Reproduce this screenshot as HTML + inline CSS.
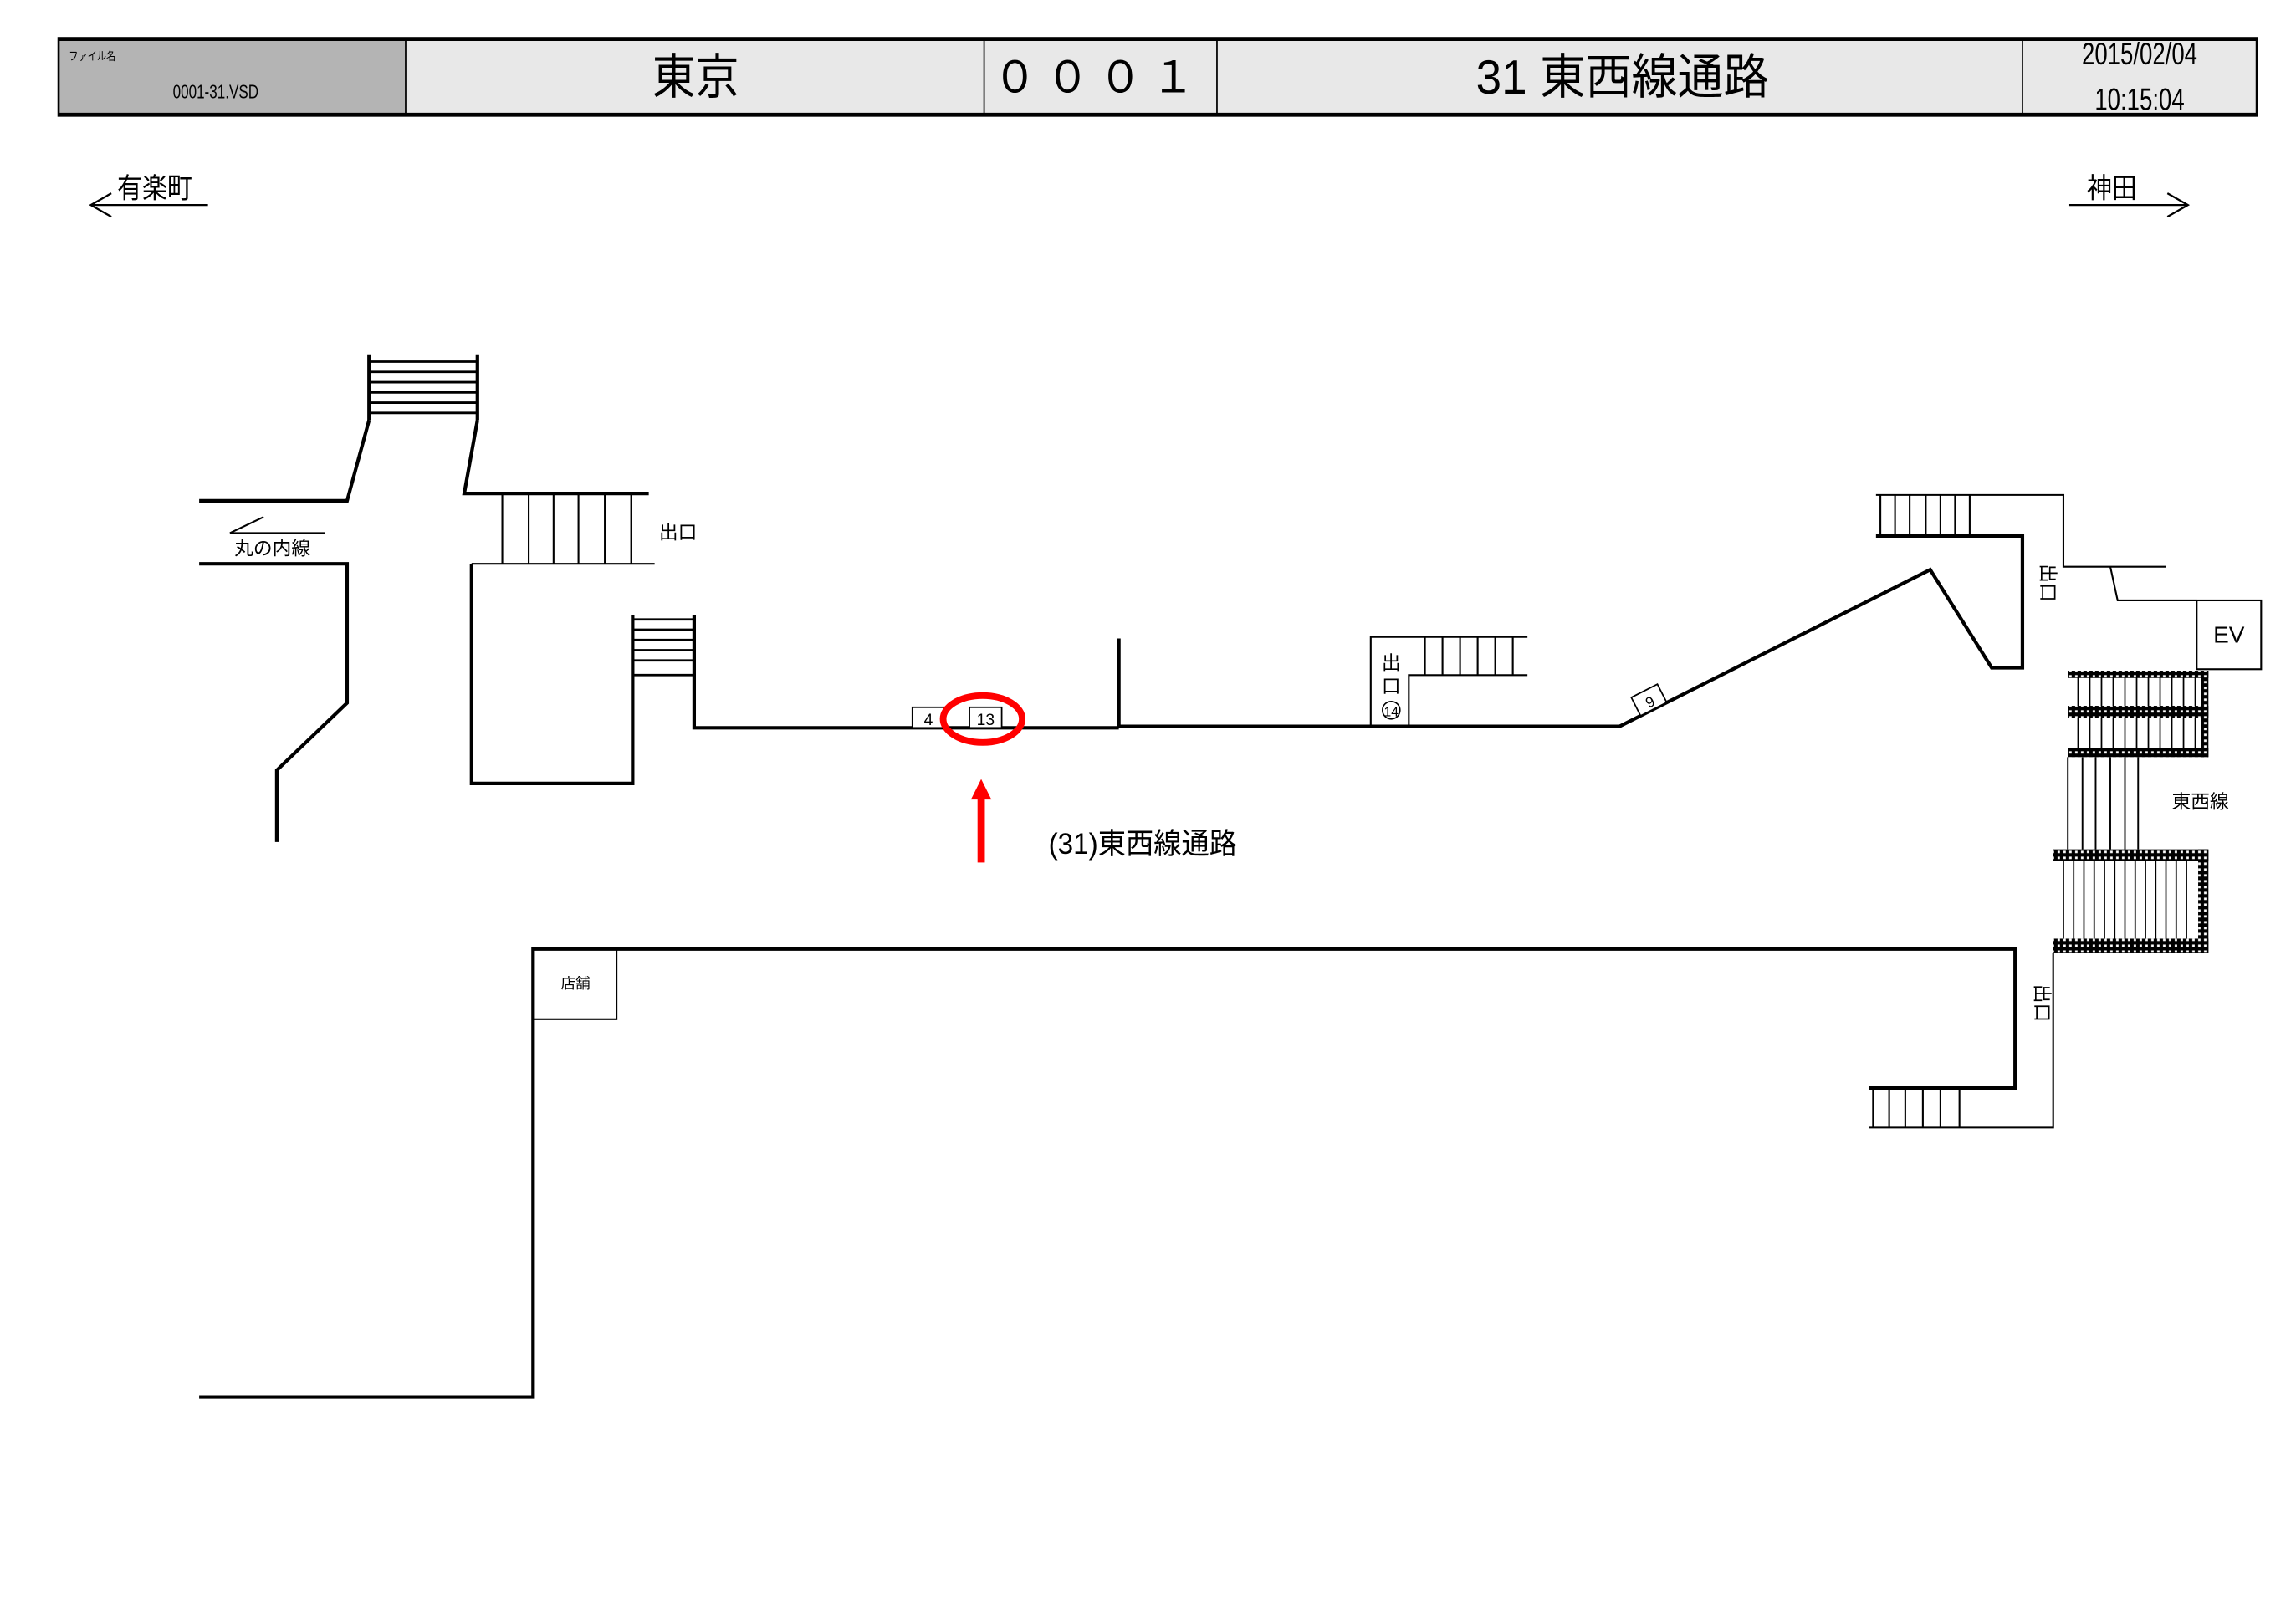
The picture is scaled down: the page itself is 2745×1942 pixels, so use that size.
<!DOCTYPE html>
<html><head><meta charset="utf-8"><style>
html,body{margin:0;padding:0;background:#fff}
svg{display:block}
text{font-family:"Liberation Sans","Noto Sans CJK JP",sans-serif;fill:#000}
</style></head><body>
<svg width="2745" height="1942" viewBox="0 0 1567.8 1109" preserveAspectRatio="none" xmlns="http://www.w3.org/2000/svg">
<defs>
<pattern id="dots" width="4" height="4" patternUnits="userSpaceOnUse">
<rect width="4" height="4" fill="#000"/><rect x="1" y="1" width="1.6" height="1.6" fill="#fff"/>
</pattern>
</defs>
<rect x="40" y="26" width="237" height="53" fill="#b4b4b4"/>
<rect x="277" y="26" width="1264" height="53" fill="#e8e8e8"/>
<rect x="40" y="26" width="1501" height="53" fill="none" stroke="#000" stroke-width="1.5"/>
<line x1="40" y1="27" x2="1541" y2="27" stroke="#000" stroke-width="2"/>
<line x1="40" y1="78" x2="1541" y2="78" stroke="#000" stroke-width="2"/>
<g stroke="#000" stroke-width="1">
<line x1="277" y1="26" x2="277" y2="79"/><line x1="672" y1="26" x2="672" y2="79"/>
<line x1="831" y1="26" x2="831" y2="79"/><line x1="1381" y1="26" x2="1381" y2="79"/>
</g>
<text x="47" y="41" font-size="8" transform="translate(47 0) scale(0.8 1) translate(-47 0)">ファイル名</text>
<text x="118" y="67" font-size="13" transform="translate(118 0) scale(0.75 1) translate(-118 0)">0001-31.VSD</text>
<text x="475" y="64" font-size="33" text-anchor="middle" transform="translate(475 0) scale(0.9 1) translate(-475 0)">東京</text>
<text x="750" y="63" font-size="30" text-anchor="middle" letter-spacing="6">０００１</text>
<text x="1108" y="64" font-size="33" text-anchor="middle" transform="translate(1108 0) scale(0.95 1) translate(-1108 0)">31 東西線通路</text>
<text x="1461" y="44" font-size="21" text-anchor="middle" transform="translate(1461 0) scale(0.75 1) translate(-1461 0)">2015/02/04</text>
<text x="1461" y="75" font-size="21" text-anchor="middle" transform="translate(1461 0) scale(0.75 1) translate(-1461 0)">10:15:04</text>
<g stroke="#000" stroke-width="1.3" fill="none">
<line x1="62" y1="140" x2="142" y2="140"/><polyline points="76,132 62,140 76,148"/>
<line x1="1413" y1="140" x2="1494" y2="140"/><polyline points="1480,132 1494,140 1480,148"/>
</g>
<text x="80" y="135" font-size="19" transform="translate(80 0) scale(0.9 1) translate(-80 0)">有楽町</text>
<text x="1425" y="135" font-size="19" transform="translate(1425 0) scale(0.9 1) translate(-1425 0)">神田</text>
<g stroke="#000" stroke-width="2.4" fill="none" stroke-linejoin="miter">
<line x1="252" y1="242" x2="252" y2="287"/><line x1="326" y1="242" x2="326" y2="287"/>
<polyline points="252,287 237,342 136,342"/>
<polyline points="326,287 317,337 443,337"/>
<polyline points="136,385 237,385 237,480 189,526 189,575"/>
<polyline points="322,385 322,535 432,535 432,420"/>
<polyline points="474,420 474,497 764,497"/>
<line x1="764" y1="436" x2="764" y2="497"/>
<polyline points="764,496 1106,496 1318,389 1360,456 1381,456 1381,366 1281,366"/>
<polyline points="136,954 364,954 364,648 1376,648 1376,743 1276,743"/>
</g>
<g stroke="#000" stroke-width="1.2" fill="none">
<polyline points="322,385 447,385"/>
<polyline points="1281,338 1409,338 1409,387 1479,387"/>
<polyline points="1441,387 1446,410 1500,410"/>
<rect x="1500" y="410" width="44" height="47"/>
<polyline points="936,496 936,435 1043,435"/>
<polyline points="962,496 962,461 1043,461"/>
<polyline points="1402,651 1402,770 1276,770"/>
<rect x="364" y="648" width="57" height="48"/>
<line x1="157" y1="364" x2="222" y2="364"/><line x1="157" y1="364" x2="180" y2="353"/>
</g>
<g stroke="#000" stroke-width="1.6">
<line x1="252" y1="247" x2="326" y2="247"/><line x1="252" y1="254" x2="326" y2="254"/>
<line x1="252" y1="261" x2="326" y2="261"/><line x1="252" y1="268" x2="326" y2="268"/>
<line x1="252" y1="275" x2="326" y2="275"/><line x1="252" y1="282" x2="326" y2="282"/>
<line x1="432" y1="423" x2="474" y2="423"/><line x1="432" y1="430" x2="474" y2="430"/>
<line x1="432" y1="437" x2="474" y2="437"/><line x1="432" y1="444" x2="474" y2="444"/>
<line x1="432" y1="451" x2="474" y2="451"/><line x1="432" y1="461" x2="474" y2="461"/>
</g>
<g stroke="#000" stroke-width="1.2">
<line x1="343" y1="337" x2="343" y2="385"/><line x1="361" y1="337" x2="361" y2="385"/>
<line x1="378" y1="337" x2="378" y2="385"/><line x1="395" y1="337" x2="395" y2="385"/>
<line x1="413" y1="337" x2="413" y2="385"/><line x1="431" y1="337" x2="431" y2="385"/>
<line x1="1284" y1="338" x2="1284" y2="366"/><line x1="1294" y1="338" x2="1294" y2="366"/>
<line x1="1304" y1="338" x2="1304" y2="366"/><line x1="1315" y1="338" x2="1315" y2="366"/>
<line x1="1325" y1="338" x2="1325" y2="366"/><line x1="1335" y1="338" x2="1335" y2="366"/>
<line x1="1345" y1="338" x2="1345" y2="366"/>
<line x1="973" y1="435" x2="973" y2="461"/><line x1="985" y1="435" x2="985" y2="461"/>
<line x1="997" y1="435" x2="997" y2="461"/><line x1="1009" y1="435" x2="1009" y2="461"/>
<line x1="1021" y1="435" x2="1021" y2="461"/><line x1="1033" y1="435" x2="1033" y2="461"/>
<line x1="1279" y1="743" x2="1279" y2="770"/><line x1="1290" y1="743" x2="1290" y2="770"/>
<line x1="1301" y1="743" x2="1301" y2="770"/><line x1="1313" y1="743" x2="1313" y2="770"/>
<line x1="1325" y1="743" x2="1325" y2="770"/><line x1="1338" y1="743" x2="1338" y2="770"/>
</g>
<g stroke="#000" stroke-width="1.1">
<line x1="1412" y1="517" x2="1412" y2="580"/><line x1="1422" y1="517" x2="1422" y2="580"/>
<line x1="1431" y1="517" x2="1431" y2="580"/><line x1="1441" y1="517" x2="1441" y2="580"/>
<line x1="1451" y1="517" x2="1451" y2="580"/><line x1="1460" y1="517" x2="1460" y2="580"/>
</g>
<g stroke="#000" stroke-width="1">
<line x1="1419" y1="462" x2="1419" y2="516"/><line x1="1427" y1="462" x2="1427" y2="516"/>
<line x1="1435" y1="462" x2="1435" y2="516"/><line x1="1443" y1="462" x2="1443" y2="516"/>
<line x1="1451" y1="462" x2="1451" y2="516"/><line x1="1459" y1="462" x2="1459" y2="516"/>
<line x1="1467" y1="462" x2="1467" y2="516"/><line x1="1475" y1="462" x2="1475" y2="516"/>
<line x1="1483" y1="462" x2="1483" y2="516"/><line x1="1491" y1="462" x2="1491" y2="516"/>
<line x1="1499" y1="462" x2="1499" y2="516"/>
<line x1="1409" y1="588" x2="1409" y2="642"/><line x1="1416" y1="588" x2="1416" y2="642"/>
<line x1="1423" y1="588" x2="1423" y2="642"/><line x1="1430" y1="588" x2="1430" y2="642"/>
<line x1="1437" y1="588" x2="1437" y2="642"/><line x1="1444" y1="588" x2="1444" y2="642"/>
<line x1="1451" y1="588" x2="1451" y2="642"/><line x1="1458" y1="588" x2="1458" y2="642"/>
<line x1="1465" y1="588" x2="1465" y2="642"/><line x1="1472" y1="588" x2="1472" y2="642"/>
<line x1="1479" y1="588" x2="1479" y2="642"/><line x1="1486" y1="588" x2="1486" y2="642"/>
<line x1="1493" y1="588" x2="1493" y2="642"/>
</g>
<g fill="url(#dots)">
<rect x="1412" y="458" width="96" height="5"/>
<rect x="1412" y="482" width="96" height="8"/>
<rect x="1412" y="511" width="96" height="6"/>
<rect x="1503" y="458" width="5" height="59"/>
<rect x="1402" y="580" width="106" height="8"/>
<rect x="1402" y="641" width="106" height="10"/>
<rect x="1501" y="580" width="7" height="71"/>
</g>
<g stroke="#000" stroke-width="1" fill="#fff">
<rect x="623" y="483" width="22" height="14"/>
<rect x="662" y="483" width="22" height="14"/>
<rect x="1116" y="471" width="20" height="14" transform="rotate(-27 1126 478)"/>
</g>
<text x="634" y="495" font-size="11" text-anchor="middle">4</text>
<text x="673" y="495" font-size="11" text-anchor="middle">13</text>
<text x="1126" y="483" font-size="10" text-anchor="middle" transform="rotate(-27 1126 478)">9</text>
<ellipse cx="671" cy="491" rx="27" ry="16" fill="none" stroke="#f00" stroke-width="4.5"/>
<rect x="667.5" y="545" width="5" height="44" fill="#f00"/>
<polygon points="670,532 663,546 677,546" fill="#f00"/>
<text x="716" y="583" font-size="20" transform="translate(716 0) scale(0.95 1) translate(-716 0)">(31)東西線通路</text>
<text x="160" y="379" font-size="13">丸の内線</text>
<text x="450" y="368" font-size="13">出口</text>
<text x="1522" y="439" font-size="16" text-anchor="middle">EV</text>
<text x="1483" y="552" font-size="13">東西線</text>
<text x="393" y="675" font-size="10" text-anchor="middle">店舗</text>
<text x="1394" y="398" font-size="13" transform="rotate(90 1394 398)" text-anchor="middle">出口</text>
<text x="1390" y="685" font-size="13" transform="rotate(90 1390 685)" text-anchor="middle">出口</text>
<g font-size="13" text-anchor="middle">
<text x="950" y="457">出</text><text x="950" y="473">口</text>
</g>
<circle cx="950" cy="485" r="6" fill="none" stroke="#000" stroke-width="0.9"/>
<text x="950" y="489" font-size="9" text-anchor="middle">14</text>
</svg>
</body></html>
